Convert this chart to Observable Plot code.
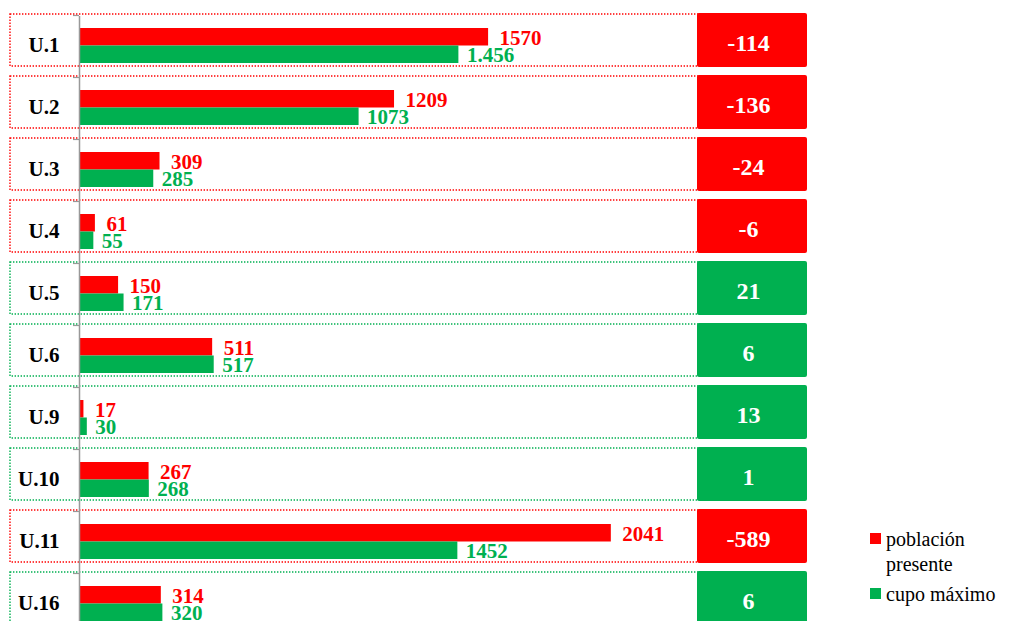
<!DOCTYPE html>
<html>
<head>
<meta charset="utf-8">
<script src="https://cdn.jsdelivr.net/npm/d3@7"></script>
<script src="https://cdn.jsdelivr.net/npm/@observablehq/plot@0.6"></script>
<style>
  body { margin: 0; background: #fff; }
  #wrap { position: relative; width: 1009px; height: 621px; overflow: hidden; background: #fff; }
  .legend { position: absolute; left: 870px; top: 527px; font-family: "Liberation Serif", "Times New Roman", serif; font-size: 20px; color: #000; line-height: 25px; }
  .legend .item { position: relative; padding-left: 16px; }
  .legend .sw { position: absolute; left: 0; top: 6px; width: 11px; height: 11px; }
</style>
</head>
<body>
<div id="wrap"></div>
<script>
const units = ["U.1", "U.2", "U.3", "U.4", "U.5", "U.6", "U.9", "U.10", "U.11", "U.16"];
const poblacion = [1570, 1209, 309, 61, 150, 511, 17, 267, 2041, 314];
const cupo = [1456, 1073, 285, 55, 171, 517, 30, 268, 1452, 320];
const poblacionLabels = ["1570", "1209", "309", "61", "150", "511", "17", "267", "2041", "314"];
const cupoLabels = ["1.456", "1073", "285", "55", "171", "517", "30", "268", "1452", "320"];
const diferencia = [-114, -136, -24, -6, 21, 6, 13, 1, -589, 6];
const seriesNames = ["población presente", "cupo máximo"];

const RED = "#ff0000";
const GREEN = "#00b050";
const serif = "'Liberation Serif', 'Times New Roman', serif";

const rows = units.map((u, i) => ({
  unit: u,
  pob: poblacion[i],
  pobLabel: poblacionLabels[i],
  cupo: cupo[i],
  cupoLabel: cupoLabels[i],
  diff: diferencia[i],
  color: diferencia[i] < 0 ? RED : GREEN
}));

const chart = Plot.plot({
  width: 1009,
  height: 621,
  marginLeft: 79,
  marginRight: 18,
  marginTop: 0,
  marginBottom: 0,
  x: { domain: [0, 3500], axis: null },
  y: { domain: units, range: [14, 624], paddingInner: 10 / 62, paddingOuter: 0, align: 0, axis: null },
  color: { type: "identity" },
  style: { fontFamily: serif, background: "white", overflow: "hidden" },
  marks: [
    // dotted row boxes
    Plot.cell(rows, { y: "unit", fill: "none", stroke: "color", strokeWidth: 1.4, strokeDasharray: "1.4,1.6", insetLeft: -69, insetRight: 293 }),
    // difference boxes
    Plot.cell(rows, { y: "unit", fill: "color", rx: 2, insetLeft: 618, insetRight: 184, insetTop: -1, insetBottom: -1 }),
    // bars
    Plot.barX(rows, { y: "unit", x: "pob", fill: RED, insetTop: 14, insetBottom: 20.5 }),
    Plot.barX(rows, { y: "unit", x: "cupo", fill: GREEN, insetTop: 31.5, insetBottom: 3 }),
    // axis line and ticks
    Plot.ruleX([0], { stroke: "#999", strokeWidth: 1.5, insetTop: 16 }),
    Plot.tickY(units, { y: d => d, stroke: "#999", strokeWidth: 1.2, insetLeft: -6, insetRight: 912, dy: -25 }),
    // value labels
    Plot.text(rows, { y: "unit", x: "pob", text: "pobLabel", fill: RED, textAnchor: "start", dx: 11, dy: -2.5, fontSize: 21, fontWeight: "bold" }),
    Plot.text(rows, { y: "unit", x: "cupo", text: "cupoLabel", fill: GREEN, textAnchor: "start", dx: 8, dy: 15, fontSize: 21, fontWeight: "bold" }),
    // unit labels
    Plot.text(units, { y: d => d, text: d => d, frameAnchor: "left", textAnchor: "end", dx: -20, dy: 5, fontSize: 21, fontWeight: "bold", fill: "black" }),
    // difference labels
    Plot.text(rows, { y: "unit", text: d => String(d.diff), frameAnchor: "left", textAnchor: "middle", dx: 669, dy: 3, fontSize: 24, fontWeight: "bold", fill: "white" })
  ]
});

const wrap = document.getElementById("wrap");
wrap.appendChild(chart);

const legend = document.createElement("div");
legend.className = "legend";
const legendColors = [RED, GREEN];
seriesNames.forEach((name, i) => {
  const item = document.createElement("div");
  item.className = "item";
  const sw = document.createElement("span");
  sw.className = "sw";
  sw.style.background = legendColors[i];
  item.appendChild(sw);
  const parts = i === 0 ? name.split(" ") : [name];
  parts.forEach((p, j) => {
    if (j > 0) item.appendChild(document.createElement("br"));
    item.appendChild(document.createTextNode(p));
  });
  if (i === 1) item.style.marginTop = "5px";
  legend.appendChild(item);
});
wrap.appendChild(legend);
</script>
</body>
</html>
